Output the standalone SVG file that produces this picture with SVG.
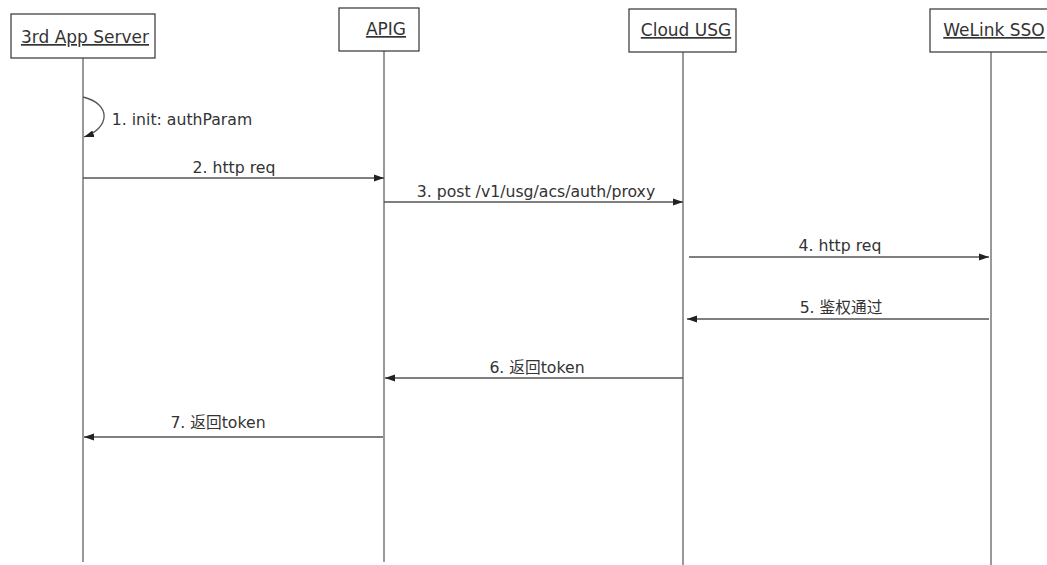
<svg xmlns="http://www.w3.org/2000/svg" width="1047" height="565" viewBox="0 0 1047 565">
<style>
.box{fill:#fff;stroke:#333;stroke-width:1.2}
.life{stroke:#777;stroke-width:1.5;fill:none}
.msg{stroke:#555;stroke-width:1.3;fill:none;marker-end:url(#ah)}
.hd{font-family:"DejaVu Sans","Noto Sans CJK SC",sans-serif;font-size:17px;fill:#333;text-anchor:middle;text-decoration:underline}
.lb{font-family:"DejaVu Sans","Noto Sans CJK SC",sans-serif;font-size:15.7px;fill:#333;text-anchor:middle}
</style>
<defs>
<marker id="ah" viewBox="0 0 10 8" refX="10" refY="4" markerWidth="10" markerHeight="8" markerUnits="userSpaceOnUse" orient="auto">
<path d="M0,0.5 L10,4 L0,7.5 Z" fill="#222"/>
</marker>
</defs>
<rect width="1047" height="565" fill="#fff"/>
<g id="lifelines">
<line class="life" x1="83" y1="58" x2="83" y2="562"/>
<line class="life" x1="384" y1="51" x2="384" y2="562"/>
<line class="life" x1="683" y1="52" x2="683" y2="565"/>
<line class="life" x1="991" y1="52" x2="991" y2="565"/>
</g>
<g id="node-3rd-app-server">
<rect class="box" x="11" y="14" width="144" height="44"/>
<text class="hd" x="85" y="43">3rd App Server</text>
</g>
<g id="node-apig">
<rect class="box" x="339" y="8" width="80" height="43"/>
<text class="hd" x="386" y="35">APIG</text>
</g>
<g id="node-cloud-usg">
<rect class="box" x="629" y="9" width="107" height="43"/>
<text class="hd" x="686" y="36">Cloud USG</text>
</g>
<g id="node-welink-sso">
<rect class="box" x="930" y="9" width="124" height="43"/>
<text class="hd" x="994" y="36">WeLink SSO</text>
</g>
<g id="connectors">
<path class="msg" d="M83,97 C112,104 110,128 84,137"/>
<text class="lb" x="182" y="125">1. init: authParam</text>
<line class="msg" x1="83" y1="178" x2="384" y2="178"/>
<text class="lb" x="234" y="173">2. http req</text>
<line class="msg" x1="384" y1="202" x2="683" y2="202"/>
<text class="lb" x="536" y="197">3. post /v1/usg/acs/auth/proxy</text>
<line class="msg" x1="689" y1="257" x2="989" y2="257"/>
<text class="lb" x="840" y="251">4. http req</text>
<line class="msg" x1="989" y1="319" x2="687" y2="319"/>
<text class="lb" x="841" y="313">5. 鉴权通过</text>
<line class="msg" x1="683" y1="378" x2="385" y2="378"/>
<text class="lb" x="537" y="373">6. 返回token</text>
<line class="msg" x1="383" y1="437" x2="84" y2="437"/>
<text class="lb" x="218" y="428">7. 返回token</text>
</g>
</svg>
